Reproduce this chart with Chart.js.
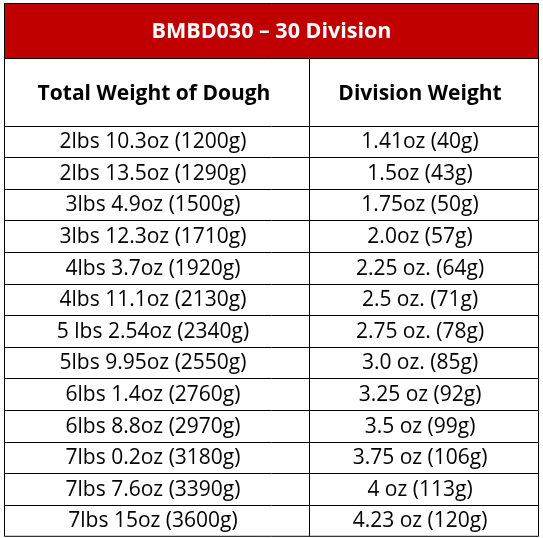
<!DOCTYPE html>
<html><head><meta charset="utf-8">
<script src="https://cdn.jsdelivr.net/npm/chart.js@4/dist/chart.umd.min.js"></script>
<style>html,body{margin:0;padding:0;background:#fff}#c{display:block}</style>
</head><body>
<div style="width:543px;height:538px"><canvas id="c"></canvas></div>
<script>
const title = "BMBD030 – 30 Division";
const headers = ["Total Weight of Dough", "Division Weight"];
const totalWeights = ["2lbs 10.3oz (1200g)","2lbs 13.5oz (1290g)","3lbs 4.9oz (1500g)","3lbs 12.3oz (1710g)","4lbs 3.7oz (1920g)","4lbs 11.1oz (2130g)","5 lbs 2.54oz (2340g)","5lbs 9.95oz (2550g)","6lbs 1.4oz (2760g)","6lbs 8.8oz (2970g)","7lbs 0.2oz (3180g)","7lbs 7.6oz (3390g)","7lbs 15oz (3600g)"];
const divisionWeights = ["1.41oz (40g)","1.5oz (43g)","1.75oz (50g)","2.0oz (57g)","2.25 oz. (64g)","2.5 oz. (71g)","2.75 oz. (78g)","3.0 oz. (85g)","3.25 oz (92g)","3.5 oz (99g)","3.75 oz (106g)","4 oz (113g)","4.23 oz (120g)"];

const tablePlugin = {
  id: 'table',
  afterDraw(chart) {
    const ctx = chart.ctx;
    const L = 4.5, R = 538.5, T = 3.5, mid = 309.5;
    const hb = 58.5, h2 = 125.5, rh = 31.6;
    const B = h2 + rh * totalWeights.length;
    ctx.save();
    ctx.fillStyle = '#c00000';
    ctx.fillRect(L, T, R - L, hb - T);
    ctx.fillStyle = '#fff';
    ctx.textAlign = 'center'; ctx.textBaseline = 'middle';
    ctx.font = 'bold 21.5px "Open Sans", sans-serif';
    ctx.fillText(title, (L + R) / 2, (T + hb) / 2 + 1);
    ctx.fillStyle = '#000';
    ctx.font = 'bold 21px "Open Sans", sans-serif';
    ctx.fillText(headers[0], (L + mid) / 2 - 3, (hb + h2) / 2 + 2);
    ctx.fillText(headers[1], (mid + R) / 2 - 4, (hb + h2) / 2 + 2);
    ctx.font = '21px "Open Sans", sans-serif';
    totalWeights.forEach((t, i) => {
      const y = h2 + rh * (i + 0.5) + 1;
      ctx.fillText(t, (L + mid) / 2 - 4, y);
      ctx.fillText(divisionWeights[i], (mid + R) / 2 - 4, y);
    });
    ctx.strokeStyle = '#000'; ctx.lineWidth = 1;
    ctx.beginPath();
    ctx.rect(L, T, R - L, B - T);
    ctx.moveTo(L, hb); ctx.lineTo(R, hb);
    ctx.moveTo(mid, hb); ctx.lineTo(mid, B);
    for (let i = 0; i < totalWeights.length; i++) {
      const y = Math.round(h2 + rh * i) + 0.5;
      ctx.moveTo(L, y); ctx.lineTo(R, y);
    }
    ctx.stroke();
    ctx.restore();
  }
};

new Chart(document.getElementById('c'), {
  type: 'bar',
  data: { labels: totalWeights, datasets: [{ data: [], label: title }] },
  options: {
    responsive: true, maintainAspectRatio: false, animation: false,
    plugins: { legend: { display: false }, tooltip: { enabled: false } },
    scales: { x: { display: false }, y: { display: false } }
  },
  plugins: [tablePlugin]
});
</script>
</body></html>
